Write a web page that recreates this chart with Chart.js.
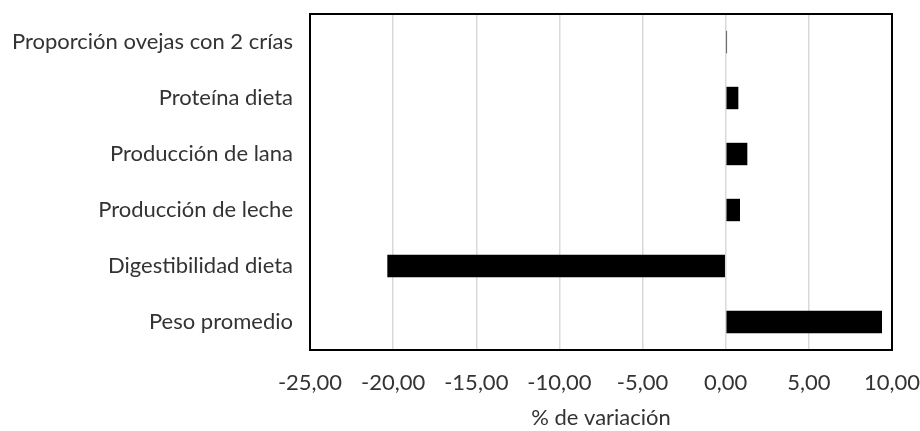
<!DOCTYPE html>
<html>
<head>
<meta charset="utf-8">
<script src="https://cdn.jsdelivr.net/npm/chart.js@4"></script>
<style>
  html, body { margin: 0; padding: 0; background: #ffffff; }
  #wrap { width: 920px; height: 431px; position: relative; }
</style>
</head>
<body>
<div id="wrap"><canvas id="c"></canvas></div>
<script>
const categories = [
  "Proporción ovejas con 2 crías",
  "Proteína dieta",
  "Producción de lana",
  "Producción de leche",
  "Digestibilidad dieta",
  "Peso promedio"
];
const variation = [0.08, 0.76, 1.3, 0.86, -20.35, 9.4];
const xTicks = [-25, -20, -15, -10, -5, 0, 5, 10];
const xTitle = "% de variación";

const FONT = "Lato";
const TEXT = "#333333";

const frame = {
  id: "frame",
  afterDatasetsDraw(chart) {
    const a = chart.chartArea, ctx = chart.ctx;
    ctx.save();
    ctx.strokeStyle = "#000000";
    ctx.lineWidth = 2;
    ctx.strokeRect(a.left, a.top, a.right - a.left, a.bottom - a.top);
    ctx.restore();
  }
};

new Chart(document.getElementById("c"), {
  type: "bar",
  data: {
    labels: categories,
    datasets: [{
      data: variation,
      backgroundColor: "#000000",
      borderWidth: 0,
      barPercentage: 0.4,
      categoryPercentage: 1.0
    }]
  },
  options: {
    indexAxis: "y",
    responsive: true,
    maintainAspectRatio: false,
    animation: false,
    layout: { padding: { top: 14, right: 28, left: 0, bottom: 0 } },
    plugins: { legend: { display: false }, tooltip: { enabled: false } },
    scales: {
      x: {
        type: "linear",
        min: xTicks[0],
        max: xTicks[xTicks.length - 1],
        afterBuildTicks(scale) { scale.ticks = xTicks.map(v => ({ value: v })); },
        afterFit(scale) {
          scale.height = 81;
          scale.paddingLeft = 0; scale.paddingRight = 0;
          scale.paddingTop = 0; scale.paddingBottom = 0;
        },
        grid: { color: "#d9d9d9", lineWidth: 1.5, drawTicks: false },
        border: { display: false },
        ticks: {
          padding: 20,
          color: TEXT,
          font: { family: FONT, size: 22 },
          callback: v => v.toFixed(2).replace(".", ",")
        },
        title: {
          display: true,
          text: xTitle,
          color: TEXT,
          font: { family: FONT, size: 22 },
          padding: { top: 14, bottom: 0 }
        }
      },
      y: {
        afterFit(scale) {
          scale.width = 310;
          scale.paddingLeft = 0; scale.paddingRight = 0;
          scale.paddingTop = 0; scale.paddingBottom = 0;
        },
        grid: { display: false, drawTicks: false },
        border: { display: false },
        ticks: {
          padding: 17,
          color: TEXT,
          font: { family: FONT, size: 22 }
        }
      }
    }
  },
  plugins: [frame]
});
</script>
</body>
</html>
